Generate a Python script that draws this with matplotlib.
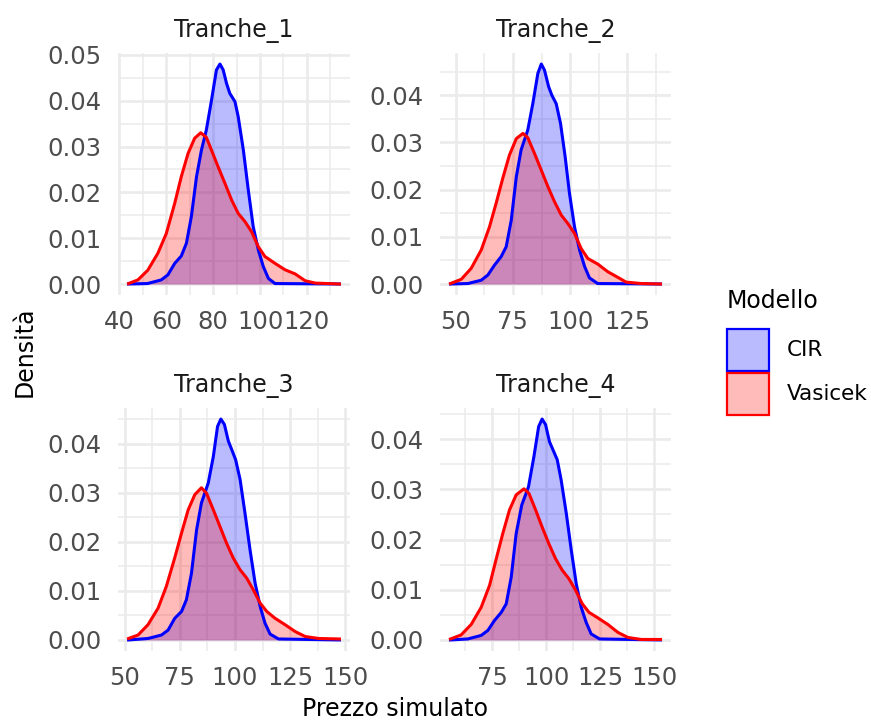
import matplotlib.pyplot as plt
from matplotlib.patches import Rectangle
from matplotlib.ticker import MultipleLocator, FormatStrFormatter

plt.rcParams['font.family'] = ['DejaVu Sans']

# densita', per tranche e modello
t1_cir_x = [43.9, 52.0, 57.9, 60.7, 63.6, 66.4, 68.6, 70.7, 72.9, 75.0, 77.1, 79.3, 81.4, 82.9,
            84.3, 85.7, 87.1, 89.3, 90.7, 92.9, 95.0, 97.1, 99.3, 101.4, 103.6, 106.4, 133.9]
t1_cir_y = [0.0, 0.0001, 0.0009, 0.002, 0.0045, 0.0061, 0.0089, 0.0147, 0.0234, 0.0292, 0.0336,
            0.0401, 0.0467, 0.048, 0.0467, 0.0438, 0.0416, 0.0398, 0.0365, 0.0292, 0.0205, 0.0125,
            0.0074, 0.0038, 0.0012, 0.0001, 0.0]
t1_vas_x = [43.9, 47.9, 52.1, 56.4, 60.0, 63.6, 66.4, 69.3, 72.1, 74.7, 77.1, 79.3, 82.1, 85.0,
            87.9, 90.7, 93.6, 96.4, 99.3, 102.1, 106.4, 110.7, 115.0, 119.3, 123.6, 133.9]
t1_vas_y = [0.0001, 0.0009, 0.003, 0.0067, 0.011, 0.0176, 0.0234, 0.0285, 0.0318, 0.033, 0.032,
            0.0292, 0.0256, 0.022, 0.0183, 0.0154, 0.0136, 0.0114, 0.0081, 0.006, 0.0045, 0.0031,
            0.0022, 0.0007, 0.0002, 0.0]

t2_cir_x = [47.8, 55.4, 61.2, 64.1, 67.0, 69.9, 72.1, 74.3, 76.5, 78.6, 81.5, 83.7, 85.9, 87.4,
            88.8, 90.6, 92.0, 93.9, 95.8, 97.8, 99.7, 101.9, 104.1, 106.3, 108.4, 112.0, 139.4]
t2_cir_y = [0.0, 0.0001, 0.0008, 0.0019, 0.004, 0.0058, 0.0079, 0.0135, 0.0227, 0.0284, 0.0326,
            0.0382, 0.0446, 0.0466, 0.0453, 0.0418, 0.04, 0.0382, 0.034, 0.027, 0.0192, 0.0121,
            0.0072, 0.0037, 0.0013, 0.0001, 0.0]
t2_vas_x = [47.8, 52.5, 56.8, 61.2, 64.8, 67.7, 70.6, 73.5, 76.5, 79.4, 81.5, 84.4, 87.4, 90.3,
            93.2, 96.1, 99.0, 101.9, 104.8, 107.7, 112.1, 116.4, 120.1, 124.4, 131.0, 139.4]
t2_vas_y = [0.0001, 0.001, 0.0033, 0.0072, 0.0121, 0.0171, 0.0224, 0.0273, 0.0308, 0.0319, 0.031,
            0.0277, 0.0241, 0.0206, 0.0174, 0.0146, 0.0128, 0.0107, 0.0075, 0.0054, 0.0042, 0.0026,
            0.0016, 0.0004, 0.0001, 0.0]

t3_cir_x = [51.8, 60.6, 66.7, 69.7, 72.7, 75.8, 78.0, 80.3, 82.6, 84.8, 87.9, 90.2, 92.1, 93.6,
            95.2, 97.0, 98.5, 100.3, 102.3, 104.5, 106.8, 109.1, 111.4, 113.6, 115.9, 119.7, 147.3]
t3_cir_y = [0.0, 0.0003, 0.001, 0.002, 0.0044, 0.0058, 0.0082, 0.0136, 0.0224, 0.0279, 0.032,
            0.0374, 0.0435, 0.045, 0.0439, 0.0405, 0.0388, 0.0367, 0.0327, 0.0259, 0.0184, 0.0116,
            0.0068, 0.0034, 0.0012, 0.0002, 0.0]
t3_vas_x = [51.8, 56.1, 60.6, 65.2, 68.9, 72.7, 75.8, 78.8, 81.8, 84.8, 87.1, 90.2, 93.2, 96.2,
            99.2, 102.3, 105.3, 108.3, 111.4, 114.4, 118.2, 122.7, 127.3, 131.8, 137.9, 147.3]
t3_vas_y = [0.0003, 0.001, 0.0031, 0.0065, 0.0109, 0.0167, 0.0218, 0.0265, 0.0296, 0.031, 0.0299,
            0.0265, 0.0231, 0.0197, 0.0167, 0.0143, 0.0126, 0.0102, 0.0075, 0.0058, 0.0044, 0.0031,
            0.0017, 0.0007, 0.0003, 0.0002]

t4_cir_x = [55.7, 63.7, 69.9, 73.0, 76.1, 79.2, 81.5, 83.8, 86.1, 88.7, 91.8, 94.3, 96.5, 98.1,
            99.7, 101.5, 103.1, 105.1, 106.9, 109.3, 111.6, 113.9, 116.2, 118.5, 120.8, 124.7, 152.9]
t4_cir_y = [0.0, 0.0002, 0.0009, 0.0019, 0.0039, 0.0055, 0.0072, 0.0125, 0.0212, 0.0269, 0.0305,
            0.0365, 0.0425, 0.044, 0.0429, 0.0395, 0.0379, 0.0359, 0.0319, 0.0252, 0.0179, 0.0112,
            0.0065, 0.0035, 0.0012, 0.0002, 0.0]
t4_vas_x = [55.7, 60.6, 65.3, 69.9, 73.8, 76.9, 79.9, 83.0, 86.1, 89.7, 92.0, 95.1, 98.1, 101.2,
            104.3, 107.4, 110.5, 113.6, 116.7, 119.8, 123.9, 128.5, 133.2, 137.8, 144.0, 152.9]
t4_vas_y = [0.0002, 0.001, 0.0031, 0.0065, 0.0109, 0.0162, 0.0212, 0.0259, 0.0289, 0.0301, 0.0292,
            0.0259, 0.0225, 0.0192, 0.0162, 0.0139, 0.0122, 0.0099, 0.0072, 0.0055, 0.0044, 0.0031,
            0.0015, 0.0005, 0.0001, 0.0001]

tranche = ['Tranche_1', 'Tranche_2', 'Tranche_3', 'Tranche_4']
x_step = [20, 25, 25, 25]
modelli = ['CIR', 'Vasicek']
colori = {'CIR': 'blue', 'Vasicek': 'red'}
riempimento = {'CIR': (0, 0, 1, 0.27), 'Vasicek': (1, 0, 0, 0.27)}

dati = [
    {'CIR': (t1_cir_x, t1_cir_y), 'Vasicek': (t1_vas_x, t1_vas_y)},
    {'CIR': (t2_cir_x, t2_cir_y), 'Vasicek': (t2_vas_x, t2_vas_y)},
    {'CIR': (t3_cir_x, t3_cir_y), 'Vasicek': (t3_vas_x, t3_vas_y)},
    {'CIR': (t4_cir_x, t4_cir_y), 'Vasicek': (t4_vas_x, t4_vas_y)},
]

W, H = 871, 722
fig = plt.figure(figsize=(W / 100, H / 100), dpi=100)

# pannelli in pixel: sinistra, destra, alto, basso
box = [(118, 350, 53, 295), (440, 671, 53, 295), (118, 350, 408, 651), (440, 671, 408, 651)]
title_base = [36.7, 36.7, 391.7, 391.7]

for i, (l, r, t, b) in enumerate(box):
    ax = fig.add_axes([l / W, 1 - b / H, (r - l) / W, (b - t) / H])
    for m in modelli:
        xs, ys = dati[i][m]
        ax.fill_between(xs, ys, 0, color=riempimento[m], lw=0, zorder=3)
        ax.plot(xs, ys, color=colori[m], lw=2.2, zorder=4)
    ax.margins(x=0.05, y=0.05)
    ax.xaxis.set_major_locator(MultipleLocator(x_step[i]))
    ax.xaxis.set_minor_locator(MultipleLocator(x_step[i] / 2))
    ax.yaxis.set_major_locator(MultipleLocator(0.01))
    ax.yaxis.set_minor_locator(MultipleLocator(0.005))
    ax.yaxis.set_major_formatter(FormatStrFormatter('%.2f'))
    ax.grid(which='major', color='#EBEBEB', lw=1.9, zorder=0)
    ax.grid(which='minor', color='#EBEBEB', lw=1.1, zorder=0)
    ax.set_axisbelow(True)
    for s in ax.spines.values():
        s.set_visible(False)
    ax.tick_params(which='both', length=0, labelsize=17.5, labelcolor='#4D4D4D')
    ax.tick_params(axis='y', pad=12)
    ax.tick_params(axis='x', pad=11)
    fig.text((l + r) / 2 / W, 1 - title_base[i] / H, tranche[i], ha='center', va='baseline',
             fontsize=17, color='#1A1A1A')

fig.text(25 / W, 1 - 352 / H, 'Densità', rotation=90, ha='center', va='center', fontsize=17)
fig.text(394.5 / W, 1 - 716 / H, 'Prezzo simulato', ha='center', va='baseline', fontsize=17)

# legenda
fig.text(727 / W, 1 - 308.3 / H, 'Modello', ha='left', va='baseline', fontsize=17)
key_top = [329, 373]
for m, kt in zip(modelli, key_top):
    fig.add_artist(Rectangle((727 / W, 1 - (kt + 42) / H), 42 / W, 42 / H,
                             transform=fig.transFigure, facecolor=riempimento[m],
                             edgecolor=colori[m], lw=1.6))
    fig.text(787 / W, 1 - (kt + 21) / H, m, ha='left', va='center', fontsize=15.5)

fig.savefig('out.png', dpi=100)
